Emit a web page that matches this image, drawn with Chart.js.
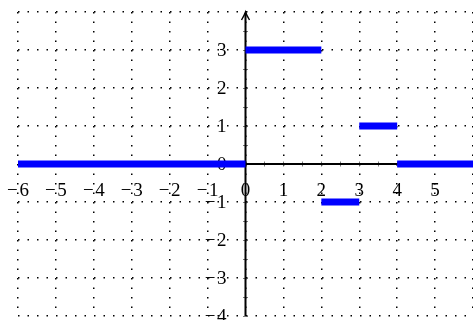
<!DOCTYPE html>
<html>
<head>
<meta charset="utf-8">
<script src="https://cdn.jsdelivr.net/npm/chart.js@4/dist/chart.umd.min.js"></script>
<style>
  html, body { margin: 0; padding: 0; background: #fff; }
  #wrap { width: 473px; height: 320px; }
</style>
</head>
<body>
<div id="wrap"><canvas id="c" width="473" height="320"></canvas></div>
<script>
// Step function segments
const segStarts = [-6, 0, 2, 3, 4];
const segEnds   = [0, 2, 3, 4, 6];
const segValues = [0, 3, -1, 1, 0];

// Axis tick labels
const xTickLabels = [-6, -5, -4, -3, -2, -1, 0, 1, 2, 3, 4, 5];
const yTickLabels = [-4, -3, -2, -1, 0, 1, 2, 3];

const xMin = -6, xMax = 6, yMin = -4, yMax = 4;

const fmt = v => (v < 0 ? '\u2212\u200A' + Math.abs(v) : String(v));

const datasets = segValues.map((v, i) => ({
  data: [{ x: segStarts[i], y: v }, { x: segEnds[i], y: v }],
  showLine: true,
  borderColor: '#0000ff',
  borderWidth: 7,
  borderCapStyle: 'butt',
  pointRadius: 0,
  fill: false
}));

const axesPlugin = {
  id: 'axesPlugin',
  beforeDatasetsDraw(chart) {
    const { ctx, scales: { x, y } } = chart;
    const x0 = x.getPixelForValue(0);
    const y0 = y.getPixelForValue(0);
    ctx.save();
    // tick labels
    ctx.fillStyle = '#000';
    ctx.font = '19px "Liberation Serif", serif';
    ctx.textBaseline = 'alphabetic';
    ctx.textAlign = 'center';
    xTickLabels.forEach(v => ctx.fillText(fmt(v), x.getPixelForValue(v), y0 + 32));
    ctx.textAlign = 'right';
    yTickLabels.forEach(v => ctx.fillText(fmt(v), x0 - 19, y.getPixelForValue(v) + 6));

    // minor ticks
    ctx.strokeStyle = '#555';
    ctx.lineWidth = 0.8;
    ctx.beginPath();
    for (let v = xMin; v <= xMax; v += 0.5) {
      const px = Math.round(x.getPixelForValue(v)) + 0.5;
      ctx.moveTo(px, y0 - 2.5); ctx.lineTo(px, y0 + 2.5);
    }
    for (let v = yMin; v < yMax; v += 0.5) {
      const py = Math.round(y.getPixelForValue(v)) + 0.5;
      ctx.moveTo(x0 - 2.5, py); ctx.lineTo(x0 + 2.5, py);
    }
    ctx.stroke();

    // axes
    ctx.strokeStyle = '#000';
    ctx.lineWidth = 2;
    ctx.beginPath();
    ctx.moveTo(x.left, y0); ctx.lineTo(x.right, y0);
    ctx.moveTo(x0, y.bottom); ctx.lineTo(x0, y.top + 1);
    ctx.stroke();

    // arrow head
    const tip = y.top;
    ctx.lineWidth = 1.4;
    ctx.beginPath();
    ctx.moveTo(x0 - 4, tip + 8);
    ctx.quadraticCurveTo(x0 - 1, tip + 3, x0, tip);
    ctx.quadraticCurveTo(x0 + 1, tip + 3, x0 + 4, tip + 8);
    ctx.stroke();
    ctx.restore();
  }
};

new Chart(document.getElementById('c'), {
  type: 'scatter',
  data: { datasets },
  options: {
    responsive: false,
    animation: false,
    events: [],
    layout: { padding: { left: 18, right: 0, top: 12, bottom: 4 } },
    plugins: { legend: { display: false }, tooltip: { enabled: false } },
    scales: {
      x: {
        type: 'linear', min: xMin, max: xMax,
        ticks: { display: false, stepSize: 1 },
        grid: { color: '#000', lineWidth: 1.5, drawTicks: false },
        border: { display: false, dash: [1.5, 8] }
      },
      y: {
        type: 'linear', min: yMin, max: yMax,
        ticks: { display: false, stepSize: 1 },
        grid: { color: '#000', lineWidth: 1.5, drawTicks: false },
        border: { display: false, dash: [1.5, 8] }
      }
    }
  },
  plugins: [axesPlugin]
});
</script>
</body>
</html>
